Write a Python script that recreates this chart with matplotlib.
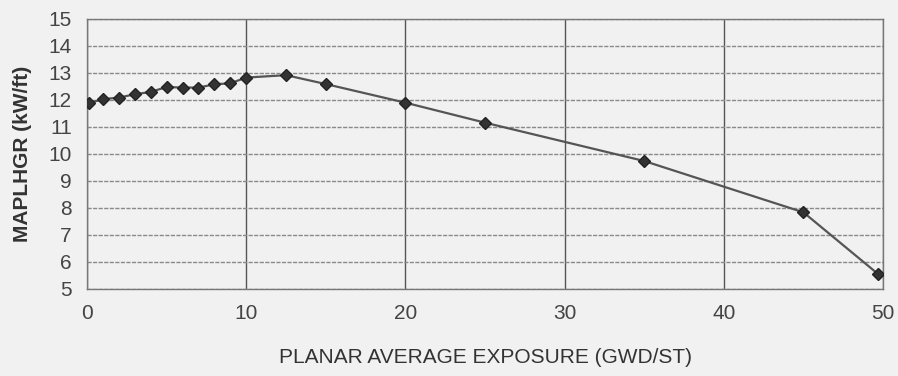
import matplotlib.pyplot as plt

plt.rcParams['font.family'] = ['Liberation Sans', 'DejaVu Sans']

# MAPLHGR limit vs planar average exposure
exposure = [0.1, 1.0, 2.0, 3.0, 4.0, 5.0, 6.0, 7.0, 8.0, 9.0, 10.0,
            12.5, 15.0, 20.0, 25.0, 35.0, 45.0, 49.7]
maplhgr = [11.88, 12.03, 12.09, 12.21, 12.30, 12.48, 12.46, 12.46, 12.58, 12.62, 12.83,
           12.92, 12.59, 11.90, 11.16, 9.74, 7.84, 5.55]

xticks = [0, 10, 20, 30, 40, 50]
yticks = [5, 6, 7, 8, 9, 10, 11, 12, 13, 14, 15]

bg = '#f1f1f1'
fig = plt.figure(figsize=(8.98, 3.76), dpi=100, facecolor=bg)
ax = fig.add_axes([0.0969, 0.2314, 0.8864, 0.7181])
ax.set_facecolor(bg)

ax.plot(exposure, maplhgr, color='#555555', lw=1.6, marker='D',
        markersize=6.5, markerfacecolor='#333333', markeredgecolor='#222222', zorder=3)

ax.set_xlim(0, 50)
ax.set_ylim(5, 15)
ax.set_xticks(xticks)
ax.set_yticks(yticks)

ax.grid(axis='y', color='#8a8a8a', lw=1.0, ls=(0, (3, 1)))
ax.grid(axis='x', color='#555555', lw=1.0)
for s in ax.spines.values():
    s.set_color('#777777')
    s.set_linewidth(1.0)

ax.tick_params(length=0, labelsize=15, labelcolor='#444444', pad=11)

ax.set_xlabel('PLANAR AVERAGE EXPOSURE (GWD/ST)', fontsize=15, color='#333333', labelpad=18)
ax.set_ylabel('MAPLHGR (kW/ft)', fontsize=15, color='#333333', fontweight='bold', labelpad=12)

fig.savefig('out.png', dpi=100, facecolor=bg)
